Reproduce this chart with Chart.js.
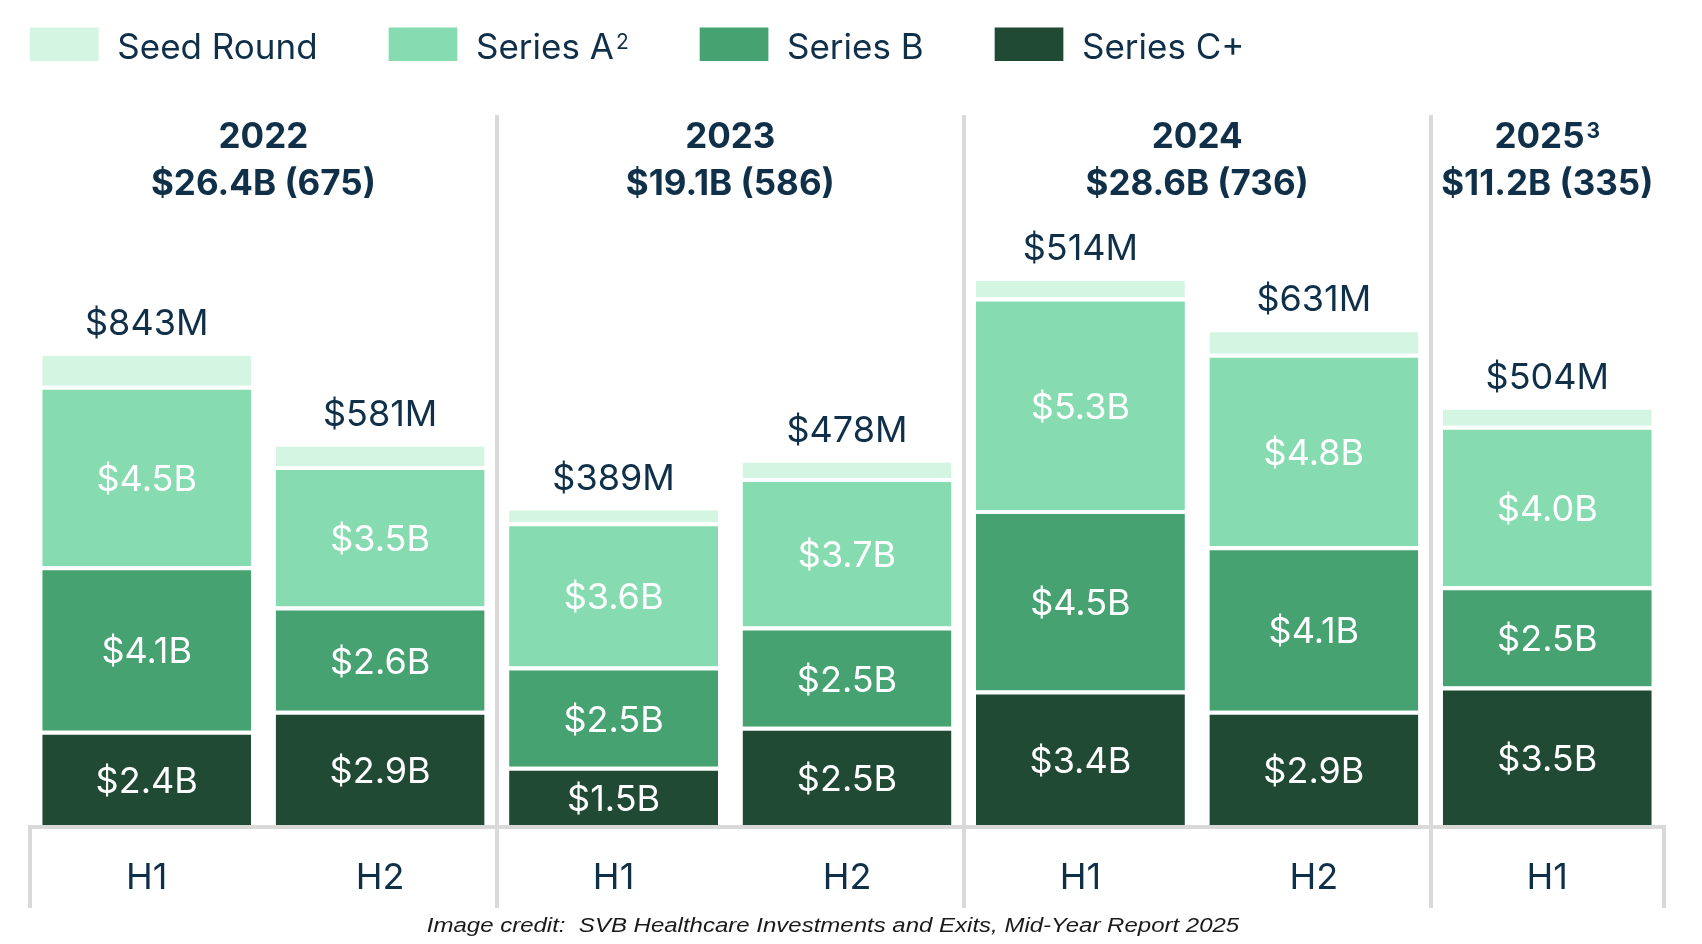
<!DOCTYPE html>
<html>
<head>
<meta charset="utf-8">
<script src="https://cdn.jsdelivr.net/npm/chart.js@4.4.1/dist/chart.umd.min.js"></script>
<style>
  html, body { margin: 0; padding: 0; background: #fff; }
  #wrap { width: 1702px; height: 944px; }
</style>
</head>
<body>
<div id="wrap"><canvas id="healthcareVc"></canvas></div>
<script>
// half-year categories and the year groups above them
const halves = ["H1", "H2", "H1", "H2", "H1", "H2", "H1"];
const years = ["2022", "2023", "2024", "2025³"];
const yearTotals = ["$26.4B (675)", "$19.1B (586)", "$28.6B (736)", "$11.2B (335)"];
const yearSpans = [[0, 1], [2, 3], [4, 5], [6, 6]];

// $B per half, seed in $M
const seriesCPlus = [2.4, 2.9, 1.5, 2.5, 3.4, 2.9, 3.5];
const seriesB = [4.1, 2.6, 2.5, 2.5, 4.5, 4.1, 2.5];
const seriesA = [4.5, 3.5, 3.6, 3.7, 5.3, 4.8, 4.0];
const seedRoundM = [843, 581, 389, 478, 514, 631, 504];

const credit = "Image credit:  SVB Healthcare Investments and Exits, Mid-Year Report 2025";

const NAVY = "#10304a";
const GRID = "#d9d9d9";
const FONT = "Inter, 'Liberation Sans', sans-serif";

// text with a trailing ² / ³ drawn as a small raised digit
function richText(ctx, text, x, y, size, weight, align) {
  const m = text.match(/^(.*?)([²³])$/);
  const main = m ? m[1] : text;
  const sup = m ? (m[2] === "²" ? "2" : "3") : "";
  ctx.font = weight + " " + size + "px " + FONT;
  const mw = ctx.measureText(main).width;
  ctx.font = weight + " " + size * 0.6 + "px " + FONT;
  const sw = sup ? ctx.measureText(sup).width + 2 : 0;
  const total = mw + sw;
  let left = x;
  if (align === "center") left = x - total / 2;
  ctx.textAlign = "left";
  ctx.textBaseline = "alphabetic";
  ctx.font = weight + " " + size + "px " + FONT;
  ctx.fillText(main, left, y);
  if (sup) {
    ctx.font = weight + " " + size * 0.6 + "px " + FONT;
    ctx.fillText(sup, left + mw + 2, y - size * 0.28);
  }
  return total;
}

// legend row across the top, flowing left to right
const legendRow = {
  id: "legendRow",
  afterDraw(chart) {
    const ctx = chart.ctx;
    ctx.save();
    let x = 30;
    chart.data.datasets.slice().reverse().forEach((ds) => {
      ctx.fillStyle = ds.backgroundColor;
      ctx.fillRect(x, 27.5, 68.7, 33.5);
      const tx = x + 68.7 + 18.6;
      ctx.fillStyle = NAVY;
      const w = richText(ctx, ds.label, tx, 58.5, 35, "normal", "left");
      x = tx + w + 71;
    });
    ctx.restore();
  },
};

// $xB inside each segment, $xM above the seed segment
const barLabels = {
  id: "barLabels",
  afterDatasetsDraw(chart) {
    const ctx = chart.ctx;
    const bottom = chart.chartArea.bottom;
    ctx.save();
    ctx.textAlign = "center";
    ctx.textBaseline = "alphabetic";
    ctx.font = "36px " + FONT;
    chart.data.datasets.forEach((ds, di) => {
      chart.getDatasetMeta(di).data.forEach((bar, i) => {
        const v = ds.data[i];
        if (ds.seed) {
          ctx.fillStyle = NAVY;
          ctx.fillText("$" + Math.round(v * 1000) + "M", bar.x, bar.y - 17);
        } else {
          const mid = (bar.y + 4 + Math.min(bar.base, bottom - 2)) / 2;
          ctx.fillStyle = "#fff";
          ctx.fillText("$" + v.toFixed(1) + "B", bar.x, mid + 13);
        }
      });
    });
    ctx.restore();
  },
};

const yearHeads = {
  id: "yearHeads",
  afterDraw(chart) {
    const ctx = chart.ctx;
    const xs = chart.scales.x;
    ctx.save();
    ctx.fillStyle = NAVY;
    yearSpans.forEach(([a, b], k) => {
      const cx = (xs.getPixelForValue(a) + xs.getPixelForValue(b)) / 2;
      richText(ctx, years[k], cx, 148, 35, "bold", "center");
      richText(ctx, yearTotals[k], cx, 195, 35, "bold", "center");
    });
    ctx.restore();
  },
};

const creditLine = {
  id: "creditLine",
  afterDraw(chart) {
    const ctx = chart.ctx;
    ctx.save();
    ctx.textAlign = "center";
    ctx.textBaseline = "alphabetic";
    ctx.fillStyle = "#1a1a1a";
    ctx.font = "italic 20px 'Liberation Sans', Arial, sans-serif";
    ctx.translate(833, 932);
    ctx.scale(1.2, 1);
    ctx.fillText(credit, 0, 0);
    ctx.restore();
  },
};

new Chart(document.getElementById("healthcareVc"), {
  type: "bar",
  data: {
    labels: halves,
    datasets: [
      { label: "Series C+", data: seriesCPlus, backgroundColor: "#204a33" },
      { label: "Series B", data: seriesB, backgroundColor: "#46a271" },
      { label: "Series A²", data: seriesA, backgroundColor: "#86dcb0" },
      { label: "Seed Round", data: seedRoundM.map((m) => m / 1000), backgroundColor: "#d5f5e3", seed: true },
    ],
  },
  options: {
    responsive: true,
    maintainAspectRatio: false,
    animation: false,
    layout: { padding: { top: 115, left: 30, right: 38, bottom: 0 } },
    datasets: {
      bar: {
        borderColor: "#ffffff",
        borderWidth: { top: 4, right: 0, bottom: 0, left: 0 },
        borderSkipped: "start",
        barPercentage: 0.895,
        categoryPercentage: 1,
      },
    },
    scales: {
      x: {
        stacked: true,
        offset: true,
        grid: {
          offset: true,
          lineWidth: 4,
          tickWidth: 4,
          tickLength: 81,
          // year separators run through the plot, outer edges only below it
          color: (c) => (c.index === 2 || c.index === 4 || c.index === 6 ? GRID : "transparent"),
          tickColor: (c) => (c.index === undefined || c.index % 2 === 0 ? GRID : "transparent"),
        },
        border: { display: true, color: GRID, width: 4, z: 1 },
        ticks: {
          color: NAVY,
          font: { family: FONT, size: 36 },
          padding: -51,
          maxRotation: 0,
          autoSkip: false,
        },
        afterFit(scale) {
          scale.height = 117;
        },
      },
      y: {
        stacked: true,
        display: false,
        min: 0,
        max: 17.75,
      },
    },
    plugins: {
      legend: { display: false },
      tooltip: { enabled: false },
    },
  },
  plugins: [legendRow, barLabels, yearHeads, creditLine],
});
</script>
</body>
</html>
